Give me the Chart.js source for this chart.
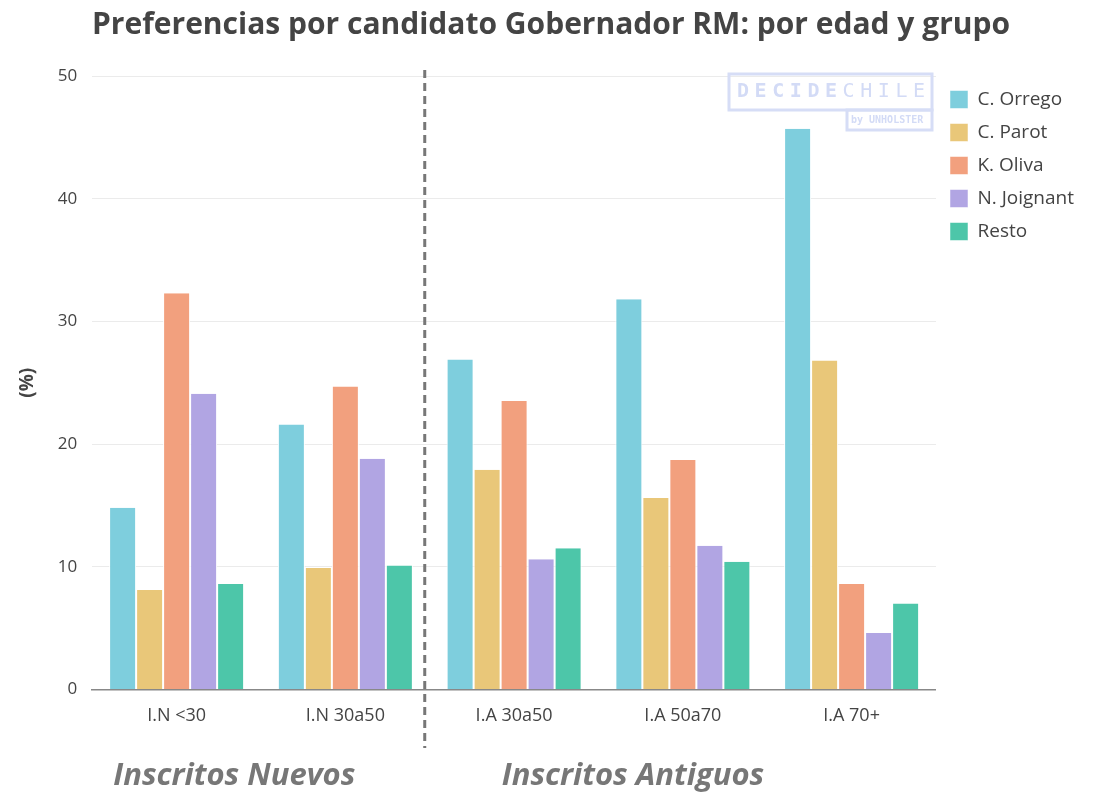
<!DOCTYPE html>
<html>
<head>
<meta charset="utf-8">
<script src="https://cdn.jsdelivr.net/npm/chart.js@4"></script>
<style>
  html, body { margin: 0; padding: 0; background: #fff; }
  canvas { display: block; }
</style>
</head>
<body>
<canvas id="gob-chart" width="1099" height="793"></canvas>
<script>
// categorias (grupos de edad)
const grupos = ["I.N <30", "I.N 30a50", "I.A 30a50", "I.A 50a70", "I.A 70+"];

// preferencias por candidato (%)
const orrego   = [14.8, 21.6, 26.9, 31.8, 45.7];
const parot    = [8.1, 9.9, 17.9, 15.6, 26.8];
const oliva    = [32.3, 24.7, 23.5, 18.7, 8.6];
const joignant = [24.1, 18.8, 10.6, 11.7, 4.6];
const resto    = [8.6, 10.1, 11.5, 10.4, 7.0];

const yTicks = [0, 10, 20, 30, 40, 50];

const FONT = "'Open Sans', 'Noto Sans', sans-serif";

function serie(label, data, color) {
  return {
    label: label,
    data: data,
    backgroundColor: color,
    borderColor: "#ffffff",
    borderWidth: { left: 1, right: 1, top: 0, bottom: 0 },
    borderSkipped: false,
    categoryPercentage: 0.8,
    barPercentage: 1.0
  };
}

// textos extra: titulo, linea punteada, marca de agua, grupos
const extras = {
  id: "extras",
  afterDraw(chart) {
    const ctx = chart.ctx;
    const area = chart.chartArea;
    const x = chart.scales.x;
    ctx.save();

    // titulo
    ctx.fillStyle = "#444";
    ctx.font = "bold 30px " + FONT;
    ctx.textBaseline = "middle";
    ctx.textAlign = "left";
    ctx.fillText("Preferencias por candidato Gobernador RM: por edad y grupo", 92, 25);

    // linea divisoria
    const xd = (x.getPixelForValue(1) + x.getPixelForValue(2)) / 2 - 5;
    ctx.strokeStyle = "#777";
    ctx.lineWidth = 3;
    ctx.setLineDash([8, 5]);
    ctx.beginPath();
    ctx.moveTo(xd, 70);
    ctx.lineTo(xd, 748);
    ctx.stroke();
    ctx.setLineDash([]);

    // grupos
    ctx.fillStyle = "#777";
    ctx.font = "italic bold 31px " + FONT;
    ctx.textBaseline = "middle";
    ctx.fillText("Inscritos Nuevos", area.left + 21, 776);
    ctx.fillText("Inscritos Antiguos", xd + 77, 776);

    // marca de agua
    ctx.strokeStyle = "#d6ddf6";
    ctx.lineWidth = 3;
    ctx.strokeRect(729, 74, 203, 36);
    ctx.strokeRect(847, 110, 85, 20);
    ctx.fillStyle = "#d3dbf6";
    ctx.textAlign = "left";
    let tx = 737;
    const letras = "DECIDECHILE";
    for (let i = 0; i < letras.length; i++) {
      ctx.font = (i < 6 ? "bold " : "") + "20px 'DejaVu Sans Mono', monospace";
      ctx.fillText(letras[i], tx, 92);
      tx += 17.6;
    }
    ctx.font = "bold 10px 'DejaVu Sans Mono', monospace";
    ctx.fillText("by UNHOLSTER", 851, 120);
    ctx.restore();
  }
};

new Chart(document.getElementById("gob-chart"), {
  type: "bar",
  data: {
    labels: grupos,
    datasets: [
      serie("C. Orrego", orrego, "#7ecedd"),
      serie("C. Parot", parot, "#e9c779"),
      serie("K. Oliva", oliva, "#f2a07e"),
      serie("N. Joignant", joignant, "#b1a5e3"),
      serie("Resto", resto, "#4dc6a9")
    ]
  },
  options: {
    responsive: false,
    animation: false,
    layout: { padding: { top: 76, left: 12, right: 15, bottom: 50 } },
    plugins: {
      legend: {
        position: "right",
        align: "start",
        labels: {
          boxWidth: 18,
          boxHeight: 18,
          padding: 14,
          color: "#444",
          font: { family: FONT, size: 19 }
        }
      },
      title: { display: false },
      tooltip: { enabled: false }
    },
    scales: {
      x: {
        grid: { display: false, drawTicks: false },
        border: { display: true, color: "#888", width: 1.5 },
        ticks: {
          color: "#444",
          padding: 16,
          font: { family: FONT, size: 18 }
        }
      },
      y: {
        min: 0,
        max: 50,
        afterBuildTicks(axis) {
          axis.ticks = yTicks.map(v => ({ value: v }));
        },
        grid: { color: "#ebebeb", drawTicks: false },
        border: { display: false },
        ticks: {
          color: "#444",
          padding: 15,
          font: { family: FONT, size: 17 }
        },
        title: {
          display: true,
          text: "(%)",
          color: "#444",
          padding: { bottom: 4 },
          font: { family: FONT, size: 19, weight: "bold" }
        }
      }
    }
  },
  plugins: [extras]
});
</script>
</body>
</html>
